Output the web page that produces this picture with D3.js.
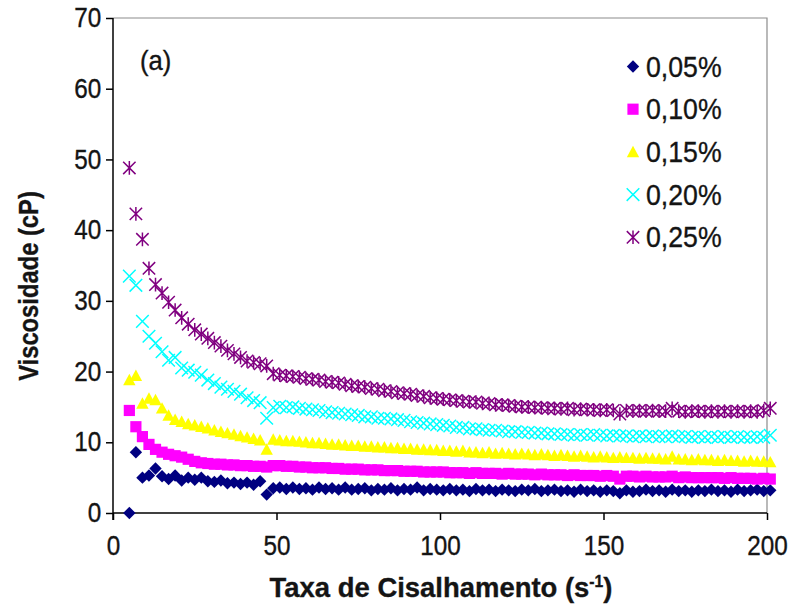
<!DOCTYPE html>
<html>
<head>
  <meta charset="utf-8">
  <title>Viscosidade</title>
  <script src="https://cdn.jsdelivr.net/npm/d3@7"></script>
  <style>
    body { margin: 0; background: #fff; }
    text { font-family: Arial, "Liberation Sans", sans-serif; fill: #141414; stroke: #141414; stroke-width: 0.35px; }
  </style>
</head>
<body>
  <svg width="793" height="609" id="mainsvg"></svg>
  <script>
    // shear rate (s-1), shared by all series
    const taxa = [
      5, 7, 9, 11, 13, 15, 17, 19, 21, 23,
      25, 27, 29, 31, 33, 35, 37, 39, 41, 43,
      45, 47, 49, 51, 53, 55, 57, 59, 61, 63,
      65, 67, 69, 71, 73, 75, 77, 79, 81, 83,
      85, 87, 89, 91, 93, 95, 97, 99, 101, 103,
      105, 107, 109, 111, 113, 115, 117, 119, 121, 123,
      125, 127, 129, 131, 133, 135, 137, 139, 141, 143,
      145, 147, 149, 151, 153, 155, 157, 159, 161, 163,
      165, 167, 169, 171, 173, 175, 177, 179, 181, 183,
      185, 187, 189, 191, 193, 195, 197, 199, 201
    ];

    const visc005 = [
      0.0, 8.6, 5.0, 5.3, 6.3, 5.2, 4.8, 5.3, 4.6, 5.0,
      4.7, 5.0, 4.5, 4.4, 4.6, 4.2, 4.3, 4.1, 4.3, 4.0,
      4.5, 2.6, 3.5, 3.6, 3.4, 3.6, 3.4, 3.5, 3.3, 3.6,
      3.4, 3.5, 3.3, 3.6, 3.3, 3.4, 3.5, 3.2, 3.4, 3.3,
      3.5, 3.2, 3.4, 3.3, 3.6, 3.2, 3.4, 3.3, 3.2, 3.4,
      3.2, 3.3, 3.1, 3.4, 3.2, 3.3, 3.1, 3.3, 3.2, 3.1,
      3.3, 3.2, 3.4, 3.1, 3.2, 3.3, 3.1, 3.2, 3.0, 3.3,
      3.1, 3.2, 3.0, 3.2, 3.1, 2.8, 3.2, 3.0, 3.1, 3.3,
      3.1, 3.2, 3.0, 3.3, 3.1, 3.2, 3.0, 3.2, 3.1, 3.3,
      3.1, 3.2, 3.0, 3.3, 3.1, 3.2, 3.3, 3.1, 3.2
    ];

    const visc010 = [
      14.5, 12.2, 10.8, 9.7, 9.0, 8.6, 8.3, 8.1, 7.9, 7.6,
      7.3, 7.1, 7.0, 6.9, 6.9, 6.8, 6.8, 6.7, 6.7, 6.6,
      6.6, 6.5, 6.7, 6.7, 6.6, 6.6, 6.5, 6.5, 6.4, 6.4,
      6.4, 6.3, 6.3, 6.2, 6.2, 6.2, 6.1, 6.1, 6.1, 6.0,
      6.0, 6.0, 5.9, 5.9, 5.9, 5.8, 5.8, 5.8, 5.8, 5.7,
      5.7, 5.7, 5.6, 5.7, 5.6, 5.6, 5.6, 5.5, 5.6, 5.5,
      5.5, 5.5, 5.4, 5.5, 5.4, 5.4, 5.4, 5.3, 5.4, 5.3,
      5.3, 5.3, 5.2, 5.3, 5.2, 4.8, 5.2, 5.2, 5.1, 5.2,
      5.1, 5.1, 5.1, 5.2, 5.0, 5.1, 5.0, 5.0, 5.0, 5.0,
      5.0, 4.9, 5.0, 4.9, 4.9, 4.9, 4.8, 4.9, 4.8
    ];

    const visc015 = [
      18.8, 19.4, 15.5, 16.2, 16.0, 14.8, 13.8, 13.2, 12.9, 12.6,
      12.4, 12.2, 12.0, 11.7, 11.5, 11.3, 11.1, 10.9, 10.7, 10.5,
      10.3, 9.0, 10.4, 10.3, 10.2, 10.2, 10.1, 10.0, 9.9, 9.9,
      9.8, 9.7, 9.7, 9.6, 9.5, 9.5, 9.4, 9.4, 9.3, 9.3,
      9.2, 9.2, 9.1, 9.1, 9.0, 9.0, 8.9, 8.9, 8.8, 8.8,
      8.7, 8.8, 8.6, 8.6, 8.5, 8.6, 8.4, 8.5, 8.4, 8.3,
      8.4, 8.3, 8.2, 8.3, 8.2, 8.1, 8.2, 8.1, 8.0, 8.1,
      8.0, 7.9, 8.0, 7.9, 7.8, 7.9, 7.8, 7.8, 7.7, 7.8,
      7.7, 7.7, 7.6, 8.0, 7.6, 7.6, 7.5, 7.6, 7.5, 7.5,
      7.4, 7.5, 7.4, 7.4, 7.3, 7.4, 7.3, 7.3, 7.2
    ];

    const visc020 = [
      33.5, 32.2, 27.1, 25.0, 24.0, 22.8, 21.6, 22.0, 20.5, 20.2,
      19.9, 19.5, 18.8, 18.3, 17.8, 17.5, 17.2, 16.8, 16.3, 15.9,
      15.6, 13.4, 14.9, 15.1, 14.9, 15.0, 14.8, 14.7, 14.6, 14.5,
      14.3, 14.2, 14.1, 14.0, 13.9, 13.8, 13.6, 13.6, 13.4, 13.4,
      13.3, 13.2, 13.1, 12.9, 12.8, 12.7, 12.6, 12.5, 12.4, 12.3,
      12.1, 12.1, 11.9, 11.9, 11.8, 11.7, 11.7, 11.6, 11.5, 11.5,
      11.4, 11.4, 11.3, 11.3, 11.2, 11.2, 11.1, 11.1, 11.0, 11.1,
      11.0, 11.1, 11.0, 10.9, 11.0, 10.9, 10.9, 10.8, 10.9, 10.8,
      10.9, 10.8, 10.8, 10.9, 10.8, 10.8, 10.7, 10.8, 10.7, 10.8,
      10.7, 10.8, 10.7, 10.8, 10.7, 10.7, 10.8, 10.7, 11.0
    ];

    const visc025 = [
      48.8, 42.3, 38.7, 34.6, 32.3, 31.1, 29.8, 28.7, 27.6, 26.7,
      25.9, 25.3, 24.7, 24.1, 23.6, 23.0, 22.5, 22.0, 21.5, 21.3,
      21.1, 20.8, 19.7, 19.5, 19.4, 19.3, 19.2, 19.0, 18.9, 18.8,
      18.6, 18.5, 18.4, 18.2, 18.0, 17.9, 17.8, 17.6, 17.5, 17.3,
      17.2, 17.0, 16.9, 16.8, 16.6, 16.5, 16.3, 16.2, 16.1, 16.0,
      15.9, 15.8, 15.7, 15.7, 15.5, 15.5, 15.3, 15.3, 15.2, 15.1,
      15.0, 15.0, 14.9, 14.9, 14.8, 14.8, 14.7, 14.8, 14.6, 14.7,
      14.6, 14.6, 14.5, 14.6, 14.5, 14.0, 14.5, 14.4, 14.5, 14.4,
      14.5, 14.4, 14.4, 14.8, 14.4, 14.3, 14.4, 14.4, 14.3, 14.4,
      14.3, 14.4, 14.3, 14.4, 14.3, 14.4, 14.3, 14.5, 14.8
    ];

    const seriesNames = ['0,05%', '0,10%', '0,15%', '0,20%', '0,25%'];
    const seriesValues = [visc005, visc010, visc015, visc020, visc025];
    const seriesColors = ['#000080', '#ff00ff', '#ffff00', '#00ffff', '#800080'];
    const seriesShapes = ['diamond', 'square', 'triangle', 'cross', 'star'];

    const xTicks = [0, 50, 100, 150, 200];
    const yTicks = [0, 10, 20, 30, 40, 50, 60, 70];

    const svg = d3.select('#mainsvg');
    const plotL = 113, plotR = 767, plotT = 18, plotB = 513;

    const x = d3.scaleLinear().domain([0, 200]).range([plotL, plotR]);
    const y = d3.scaleLinear().domain([0, 70]).range([plotB, plotT]);

    // marker shapes
    const shapes = {
      diamond: { draw(c, r) { c.moveTo(0, -r); c.lineTo(r, 0); c.lineTo(0, r); c.lineTo(-r, 0); c.closePath(); } },
      square: { draw(c, r) { c.rect(-r, -r, 2 * r, 2 * r); } },
      triangle: { draw(c, r) { c.moveTo(0, -r); c.lineTo(r, r * 0.85); c.lineTo(-r, r * 0.85); c.closePath(); } },
      cross: { draw(c, r) { c.moveTo(-r, -r); c.lineTo(r, r); c.moveTo(r, -r); c.lineTo(-r, r); } },
      star: { draw(c, r) { c.moveTo(-r, -r); c.lineTo(r, r); c.moveTo(r, -r); c.lineTo(-r, r); c.moveTo(0, -r * 1.1); c.lineTo(0, r * 1.1); } }
    };
    const shapeSize = { diamond: 6.2, square: 5.6, triangle: 6.2, cross: 6.3, star: 6.2 };
    const filled = { diamond: true, square: true, triangle: true, cross: false, star: false };

    const marker = (g, shape, color) => {
      g.attr('d', d3.symbol().type(shapes[shape]).size(shapeSize[shape])());
      if (filled[shape]) g.attr('fill', color).attr('stroke', 'none');
      else g.attr('fill', 'none').attr('stroke', color).attr('stroke-width', 1.5);
    };

    // frame (top/right in grey)
    svg.append('path')
      .attr('d', `M${plotL},${plotT}H${plotR}V${plotB}`)
      .attr('fill', 'none').attr('stroke', '#8c8c8c').attr('stroke-width', 1.2);

    // axes
    const yAxis = svg.append('g').attr('transform', `translate(${plotL},0)`)
      .call(d3.axisLeft(y).tickValues(yTicks).tickSize(7).tickPadding(6).tickFormat(d3.format('d')));
    const xAxis = svg.append('g').attr('transform', `translate(0,${plotB})`)
      .call(d3.axisBottom(x).tickValues(xTicks).tickSize(7).tickPadding(16).tickFormat(d3.format('d')));
    [xAxis, yAxis].forEach(a => {
      a.select('.domain').remove();
      a.selectAll('line').attr('stroke', '#000').attr('stroke-width', 1.5);
      a.selectAll('text').attr('font-size', 27).attr('fill', '#141414')
        .attr('font-family', 'Arial, "Liberation Sans", sans-serif')
        .attr('transform', 'scale(0.9,1)');
    });
    xAxis.selectAll('text').attr('x', 0);
    svg.append('line').attr('x1', plotL).attr('x2', plotL).attr('y1', plotT).attr('y2', plotB + 7)
      .attr('stroke', '#000').attr('stroke-width', 1.5);
    svg.append('line').attr('x1', plotL).attr('x2', plotR).attr('y1', plotB).attr('y2', plotB)
      .attr('stroke', '#000').attr('stroke-width', 1.5);

    // points
    seriesValues.forEach((vals, i) => {
      svg.append('g').selectAll('path').data(vals).join('path')
        .attr('transform', (d, j) => `translate(${x(taxa[j])},${y(d)})`)
        .call(marker, seriesShapes[i], seriesColors[i]);
    });

    // axis titles
    svg.append('text')
      .attr('transform', 'translate(38,286) rotate(-90) scale(0.88,1)')
      .attr('text-anchor', 'middle').attr('font-size', 27).attr('font-weight', 'bold')
      .text('Viscosidade (cP)');
    const xt = svg.append('text')
      .attr('transform', 'translate(441,597) scale(0.98,1)')
      .attr('text-anchor', 'middle').attr('font-size', 28).attr('font-weight', 'bold');
    xt.append('tspan').text('Taxa de Cisalhamento (s');
    xt.append('tspan').attr('font-size', 16).attr('dy', -10).text('-1');
    xt.append('tspan').attr('dy', 10).text(')');

    svg.append('text').attr('transform', 'translate(140,70) scale(0.95,1)')
      .attr('font-size', 27).text('(a)');

    // legend
    const legend = svg.append('g');
    seriesNames.forEach((name, i) => {
      const ly = 66.5 + i * 42.7;
      legend.append('path').attr('transform', `translate(633,${ly})`)
        .call(marker, seriesShapes[i], seriesColors[i]);
      legend.append('text').attr('transform', `translate(646,${ly + 10}) scale(0.92,1)`)
        .attr('font-size', 29).text(name);
    });
  </script>
</body>
</html>
